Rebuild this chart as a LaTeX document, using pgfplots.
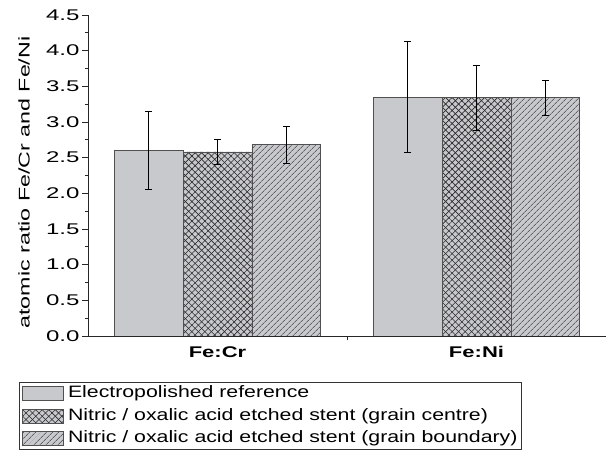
\documentclass[border=0pt]{standalone}
\usepackage{pgfplots}
\pgfplotsset{compat=1.18}
\usetikzlibrary{patterns.meta}
\usepackage{fontspec}
\setmainfont{Liberation Sans}
\definecolor{barfill}{RGB}{200,201,204}
\definecolor{baredge}{RGB}{80,80,80}
\definecolor{hatch}{RGB}{40,40,40}
\newcommand{\sx}[2]{\scalebox{#1}[1]{#2}}
\begin{document}
\begin{tikzpicture}
\begin{axis}[
  scale only axis, width=518pt, height=321pt,
  ybar=0pt, bar width=0.266,
  xmin=-0.5, xmax=1.5, ymin=0, ymax=4.5,
  /pgf/number format/assume math mode=true,
  axis x line*=bottom, axis y line*=left,
  axis line style={-, black!85, line width=0.8pt},
  tick align=outside,
  major tick length=6pt, minor tick length=3pt,
  tick style={black!85, line width=0.7pt},
  xtick={0,1}, xticklabels={\sx{1.42}{\bfseries Fe:Cr}, \sx{1.42}{\bfseries Fe:Ni}},
  x tick label style={font=\fontsize{15.5}{18}\selectfont, yshift=-1pt},
  xtick style={draw=none},
  extra x ticks={0.5}, extra x tick labels={},
  extra x tick style={xtick style={draw=black!85, line width=0.7pt}, major tick length=4pt},
  ytick={0,0.5,...,4.5}, minor y tick num=1,
  y tick label style={font=\fontsize{15.5}{18}\selectfont, xshift=1pt},
  yticklabel={\sx{1.55}{\pgfmathprintnumber[fixed,fixed zerofill,precision=1]{\tick}}},
  ylabel={\sx{1.5}{atomic ratio Fe/Cr and Fe/Ni}},
  ylabel style={font=\fontsize{15.5}{18}\selectfont, at={(axis description cs:-0.1236,0.478)}, anchor=center},
  legend cell align=left,
  legend style={at={(axis description cs:-0.1332,-0.1433)}, anchor=north west,
    draw=black!80, line width=0.8pt, inner sep=3pt, row sep=6pt, column sep=3pt,
    font=\fontsize{16.5}{19}\selectfont,
    nodes={inner sep=1pt, text height=11.5pt, text depth=3pt}},
  legend image code/.code={\draw[#1, line width=0.6pt] (0pt,-7pt) rectangle (41pt,7pt);},
]
\addplot[fill=barfill, draw=baredge, line width=0.7pt,
  error bars/.cd, y dir=both, y explicit,
  error bar style={black, line width=0.7pt},
  error mark options={rotate=90, mark size=3.5pt, black, line width=0.7pt}]
  coordinates {(0,2.60) +- (0,0.55) (1,3.35) +- (0,0.78)};
\addplot[fill=barfill, draw=baredge, line width=0.7pt,
  postaction={pattern={Lines[angle=45,distance=4.6pt,line width=0.6pt]}, pattern color=hatch},
  postaction={pattern={Lines[angle=-45,distance=4.6pt,line width=0.6pt]}, pattern color=hatch},
  error bars/.cd, y dir=both, y explicit,
  error bar style={black, line width=0.7pt},
  error mark options={rotate=90, mark size=3.5pt, black, line width=0.7pt}]
  coordinates {(0,2.58) +- (0,0.17) (1,3.34) +- (0,0.46)};
\addplot[fill=barfill, draw=baredge, line width=0.7pt,
  postaction={pattern={Lines[angle=45,distance=4pt,line width=0.55pt]}, pattern color=hatch},
  error bars/.cd, y dir=both, y explicit,
  error bar style={black, line width=0.7pt},
  error mark options={rotate=90, mark size=3.5pt, black, line width=0.7pt}]
  coordinates {(0,2.68) +- (0,0.26) (1,3.34) +- (0,0.24)};
\legend{\sx{1.29}{Electropolished reference}, \sx{1.29}{Nitric / oxalic acid etched stent (grain centre)}, \sx{1.29}{Nitric / oxalic acid etched stent (grain boundary)}}
\end{axis}
\pgfresetboundingbox
\path[use as bounding box] (-88pt,-116pt) rectangle (518pt,336pt);
\end{tikzpicture}
\end{document}
